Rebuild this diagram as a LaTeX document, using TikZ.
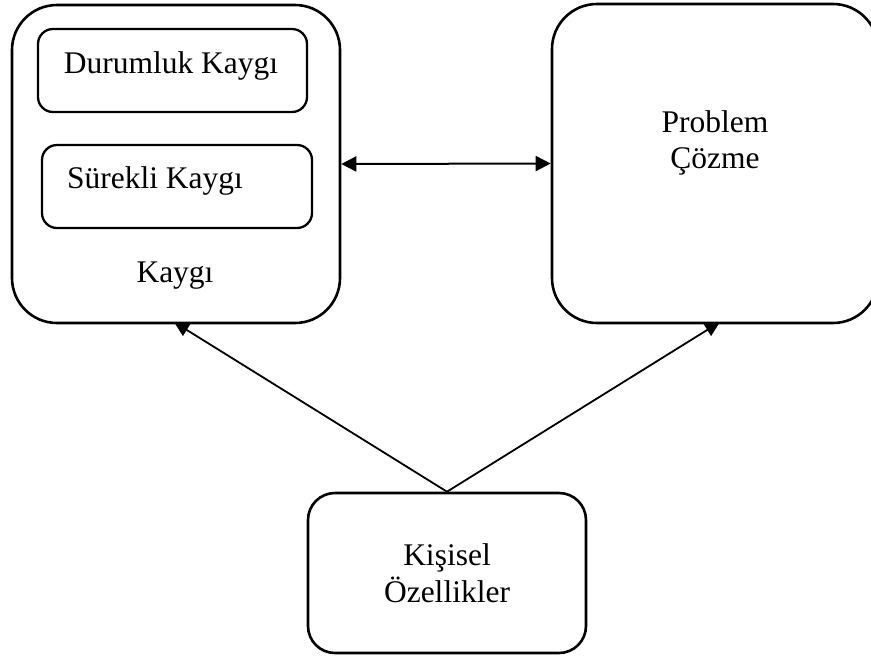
\documentclass[tikz,border=0pt]{standalone}
\usepackage{fontspec}
\setmainfont{Liberation Serif}
\usetikzlibrary{arrows.meta}
\pgfdeclarelayer{bg}
\pgfsetlayers{bg,main}
\begin{document}
\begin{tikzpicture}[x=1pt,y=-1pt,
  box/.style={draw=black, line width=2.6pt, fill=white, rectangle, inner sep=0pt},
  bigbox/.style={box, rounded corners=45pt},
  smallbox/.style={box, line width=2.3pt, rounded corners=15pt},
  midbox/.style={box, rounded corners=27pt},
  txt/.style={anchor=base, inner sep=0pt, font=\fontsize{31.5}{36}\selectfont},
  link/.style={draw=black, line width=1.8pt, -{Triangle[length=15pt,width=14pt]}},
  both/.style={draw=black, line width=2pt, {Triangle[length=15pt,width=15pt]}-{Triangle[length=15pt,width=15pt]}}]
  \useasboundingbox (0,0) rectangle (871,657);
  % frames
  \node[bigbox, minimum width=328pt, minimum height=318pt] (kaygi) at (176,164) {};
  \node[smallbox, minimum width=269pt, minimum height=83pt] (durum) at (172.5,70.5) {};
  \node[smallbox, minimum width=270pt, minimum height=83pt] (surekli) at (177,186.5) {};
  \node[bigbox, minimum width=326pt, minimum height=319pt] (problem) at (715,163.5) {};
  \node[midbox, minimum width=278pt, minimum height=160pt] (kisisel) at (447,573) {};
  % labels
  \node[txt] (tDurum) at (171,73) {Durumluk Kaygı};
  \node[txt] (tSurekli) at (155,188) {Sürekli Kaygı};
  \node[txt] (tKaygi) at (175,282) {Kaygı};
  \node[txt] (tProb1) at (715,132) {Problem};
  \node[txt] (tProb2) at (715,168) {Çözme};
  \node[txt] (tKis1) at (447,565) {Kişisel};
  \node[txt] (tKis2) at (447,602) {Özellikler};
  % connectors, kept behind the white frames
  \begin{pgfonlayer}{bg}
    \coordinate (kTip) at (174,322);
    \coordinate (pTip) at (720,322);
    \draw[link] (kisisel.north) -- (kTip);
    \draw[link] (kisisel.north) -- (pTip);
    \draw[both] (kaygi.east) -- (problem.west);
  \end{pgfonlayer}
\end{tikzpicture}
\end{document}
